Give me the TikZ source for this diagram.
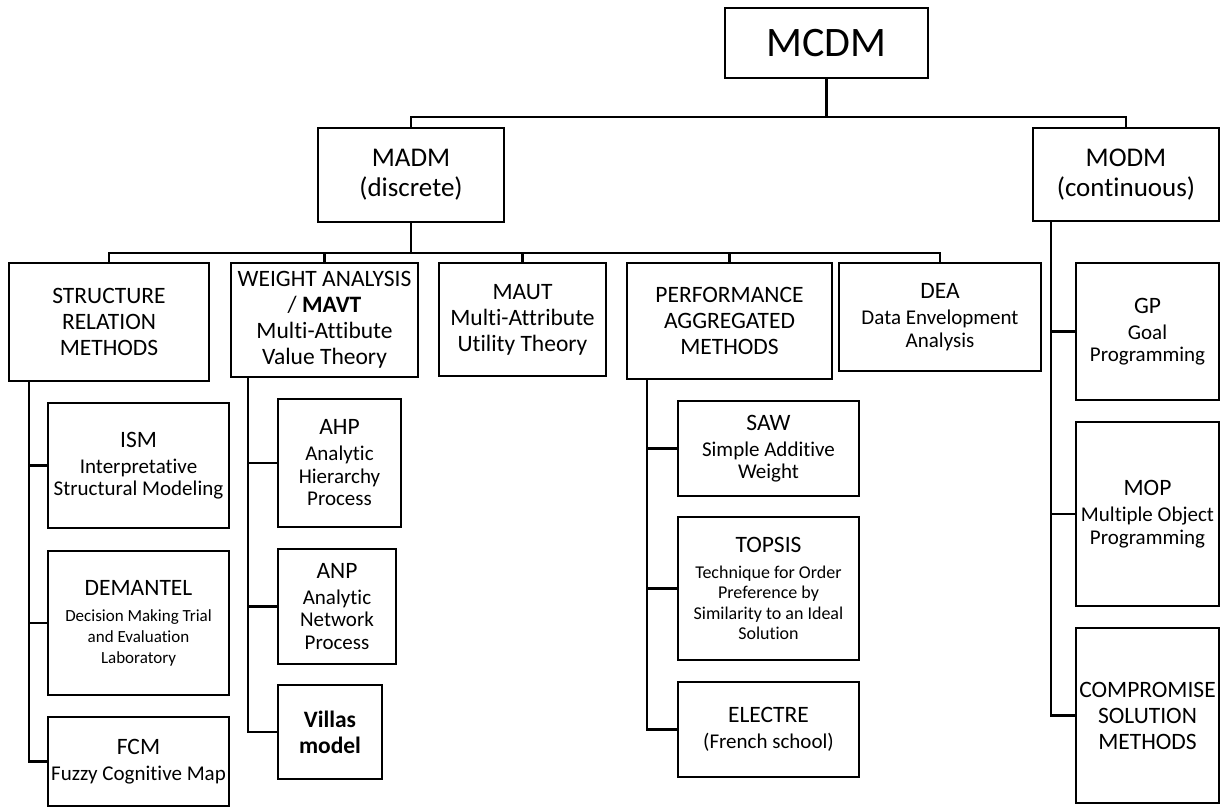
\documentclass[tikz,border=0pt]{standalone}
\usepackage{fontspec}
\setmainfont{Carlito}[Ligatures=NoCommon]
% font sizes (in pt, picture drawn at 1pt per unit)
\newcommand\fsTop{\fontsize{42}{50}\selectfont}
\newcommand\fsMid{\fontsize{27}{30}\selectfont}
\newcommand\fsHead{\fontsize{23.5}{26}\selectfont}
\newcommand\fsDesc{\fontsize{21}{23}\selectfont}
\newcommand\fsSmall{\fontsize{18}{20.5}\selectfont}
\newcommand\fsTiny{\fontsize{17}{21}\selectfont}
% tighter line breaks for the smaller description lines
\newcommand\brD{\\[-3.5pt]}
\newcommand\brS{\\[-5.5pt]}
\newcommand\brT{\\[-5pt]}
\begin{document}
\begin{tikzpicture}[x=1pt,y=-1pt,
  box/.style={draw, line width=2.2pt, inner sep=0pt, align=center, font=\fsHead},
  link/.style={line width=2.6pt}]
\useasboundingbox (0,0) rectangle (1227,809);

% top levels
\node[box, minimum width=203, minimum height=70, font=\fsTop] (mcdm) at (826.5,43) {MCDM};
\node[box, minimum width=186, minimum height=94, font=\fsMid] (madm) at (411,175) {MADM\\(discrete)};
\node[box, minimum width=186, minimum height=93, font=\fsMid] (modm) at (1126,174.5) {MODM\\(continuous)};

% MADM families
\node[box, minimum width=200, minimum height=118] (struct) at (109,322) {STRUCTURE\\RELATION\\METHODS};
\node[box, minimum width=187, minimum height=114] (weight) at (324.5,320) {WEIGHT ANALYSIS\\/ \textbf{MAVT}\\Multi-Attibute\\Value Theory};
\node[box, minimum width=167, minimum height=113] (maut) at (522.5,319.5) {MAUT\\Multi-Attribute\\Utility Theory};
\node[box, minimum width=205, minimum height=116] (perf) at (729.5,321) {PERFORMANCE\\AGGREGATED\\METHODS};
\node[box, minimum width=202, minimum height=108] (dea) at (940,317) {DEA\\\fsDesc Data Envelopment\brD\fsDesc Analysis};

% structure relation methods
\node[box, minimum width=181, minimum height=125] (ism) at (138.5,465.5) {ISM\\\fsDesc Interpretative\brD\fsDesc Structural Modeling};
\node[box, minimum width=181, minimum height=144] (demantel) at (138.5,623) {DEMANTEL\\\fsTiny Decision Making Trial\brT\fsTiny and Evaluation\brT\fsTiny Laboratory};
\node[box, minimum width=181, minimum height=89] (fcm) at (138.5,761.5) {FCM\\\fsDesc Fuzzy Cognitive Map};

% weight analysis
\node[box, minimum width=123, minimum height=128] (ahp) at (339.5,463) {AHP\\\fsDesc Analytic\brD\fsDesc Hierarchy\brD\fsDesc Process};
\node[box, minimum width=118, minimum height=115] (anp) at (337,606.5) {ANP\\\fsDesc Analytic\brD\fsDesc Network\brD\fsDesc Process};
\node[box, minimum width=104, minimum height=94] (villas) at (330,732) {\textbf{Villas}\\\textbf{model}};

% performance aggregated methods
\node[box, minimum width=181, minimum height=95] (saw) at (768.5,448.5) {SAW\\\fsDesc Simple Additive\brD\fsDesc Weight};
\node[box, minimum width=181, minimum height=143] (topsis) at (768.5,588.5) {TOPSIS\\\fsSmall Technique for Order\brS\fsSmall Preference by\brS\fsSmall Similarity to an Ideal\brS\fsSmall Solution};
\node[box, minimum width=181, minimum height=95] (electre) at (768.5,729.5) {ELECTRE\\\fsDesc (French school)};

% MODM methods
\node[box, minimum width=143, minimum height=137] (gp) at (1147.5,331.5) {GP\\\fsDesc Goal\brD\fsDesc Programming};
\node[box, minimum width=143, minimum height=184] (mop) at (1147.5,514) {MOP\\\fsDesc Multiple Object\brD\fsDesc Programming};
\node[box, minimum width=143, minimum height=175] (comp) at (1147.5,715.5) {COMPROMISE\\SOLUTION\\METHODS};

% buses
\coordinate (busA) at (826.5,117);
\coordinate (busB) at (411,253);
\draw[link] (mcdm.south) -- (busA);
\draw[link] (madm.north) |- (busA) -| (modm.north);
\draw[link] (madm.south) -- (busB);
\draw[link] (struct.north) |- (busB) -| (dea.north);
\draw[link] (weight.north) -- (weight.north |- busB);
\draw[link] (maut.north) -- (maut.north |- busB);
\draw[link] (perf.north) -- (perf.north |- busB);

% trunks
\coordinate (stT) at ([xshift=21pt]struct.south west);
\draw[link] (stT) |- (fcm.west);
\draw[link] (stT |- ism.west) -- (ism.west);
\draw[link] (stT |- demantel.west) -- (demantel.west);

\coordinate (wtT) at ([xshift=18pt]weight.south west);
\draw[link] (wtT) |- (villas.west);
\draw[link] (wtT |- ahp.west) -- (ahp.west);
\draw[link] (wtT |- anp.west) -- (anp.west);

\coordinate (pfT) at ([xshift=21pt]perf.south west);
\draw[link] (pfT) |- (electre.west);
\draw[link] (pfT |- saw.west) -- (saw.west);
\draw[link] (pfT |- topsis.west) -- (topsis.west);

\coordinate (moT) at ([xshift=19pt]modm.south west);
\draw[link] (moT) |- (comp.west);
\draw[link] (moT |- gp.west) -- (gp.west);
\draw[link] (moT |- mop.west) -- (mop.west);
\end{tikzpicture}
\end{document}
